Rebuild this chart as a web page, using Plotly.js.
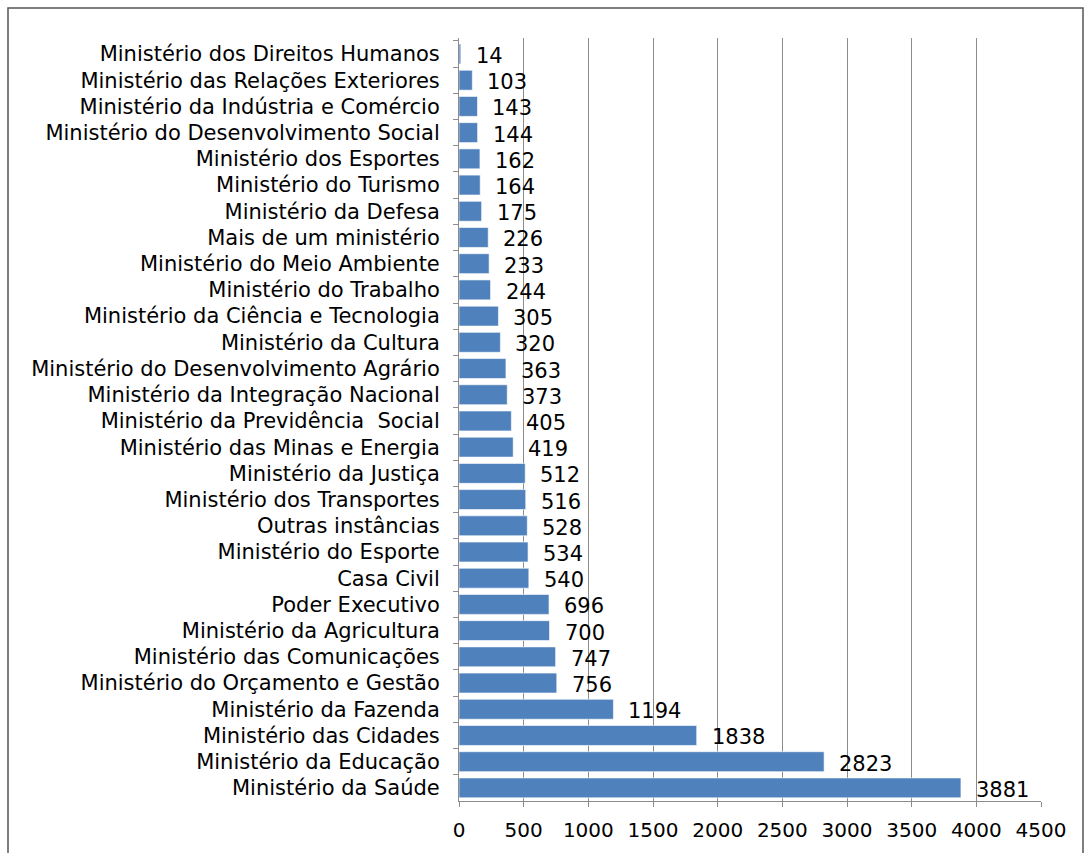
<!DOCTYPE html>
<html>
<head>
<meta charset="utf-8">
<script src="https://cdn.plot.ly/plotly-3.0.1.min.js"></script>
<style>
html,body{margin:0;padding:0;background:#fff;}
#chart{width:1084px;height:853px;}
</style>
</head>
<body>
<div id="chart"></div>
<script>
const categories = [
  "Ministério dos Direitos Humanos",
  "Ministério das Relações Exteriores",
  "Ministério da Indústria e Comércio",
  "Ministério do Desenvolvimento Social",
  "Ministério dos Esportes",
  "Ministério do Turismo",
  "Ministério da Defesa",
  "Mais de um ministério",
  "Ministério do Meio Ambiente",
  "Ministério do Trabalho",
  "Ministério da Ciência e Tecnologia",
  "Ministério da Cultura",
  "Ministério do Desenvolvimento Agrário",
  "Ministério da Integração Nacional",
  "Ministério da Previdência  Social",
  "Ministério das Minas e Energia",
  "Ministério da Justiça",
  "Ministério dos Transportes",
  "Outras instâncias",
  "Ministério do Esporte",
  "Casa Civil",
  "Poder Executivo",
  "Ministério da Agricultura",
  "Ministério das Comunicações",
  "Ministério do Orçamento e Gestão",
  "Ministério da Fazenda",
  "Ministério das Cidades",
  "Ministério da Educação",
  "Ministério da Saúde"
];
const values = [14,103,143,144,162,164,175,226,233,244,305,320,363,373,405,419,512,516,528,534,540,696,700,747,756,1194,1838,2823,3881];
const xTicks = [0,500,1000,1500,2000,2500,3000,3500,4000,4500];

const FONT = "DejaVu Sans, Verdana, sans-serif";

const trace = {
  type: "bar",
  orientation: "h",
  x: values,
  y: categories,
  marker: {color: "#4F81BD", line: {color: "rgba(255,255,255,0.6)", width: 1}},
  width: 0.76,
  hoverinfo: "x+y"
};

const annotations = categories.map((c, i) => ({
  x: values[i], y: c, xref: "x", yref: "y",
  text: String(values[i]), showarrow: false,
  xanchor: "left", yanchor: "middle", xshift: 13, yshift: -2,
  font: {family: FONT, size: 21, color: "#000"}
}));

const layout = {
  width: 1084, height: 853,
  margin: {l: 459, r: 43, t: 38, b: 52},
  paper_bgcolor: "#fff", plot_bgcolor: "#fff",
  showlegend: false,
  bargap: 0.24,
  font: {family: FONT, size: 20, color: "#000"},
  xaxis: {
    range: [0, 4500],
    tickvals: xTicks,
    ticktext: xTicks.map(String),
    showgrid: true, gridcolor: "#8c8c8c", gridwidth: 1,
    zeroline: false,
    showline: true, linecolor: "#8c8c8c", linewidth: 1,
    ticks: "outside", ticklen: 5, tickcolor: "#8c8c8c",
    ticklabelstandoff: 6,
    tickfont: {family: FONT, size: 20, color: "#000"},
    fixedrange: true
  },
  yaxis: {
    type: "category",
    autorange: "reversed",
    showgrid: false, zeroline: false,
    showline: true, linecolor: "#8c8c8c", linewidth: 1,
    ticks: "outside", ticklen: 5, tickcolor: "#8c8c8c",
    tickson: "boundaries",
    ticklabelstandoff: 14,
    tickfont: {family: FONT, size: 21, color: "#000"},
    fixedrange: true
  },
  annotations: annotations,
  shapes: [{
    type: "rect", xref: "paper", yref: "paper",
    x0: (8 - 459) / 582, x1: (1083 - 459) / 582,
    y0: -0.2, y1: (801 - 8) / 763,
    line: {color: "#555", width: 1.5}, layer: "below"
  }]
};

Plotly.newPlot("chart", [trace], layout, {displayModeBar: false, staticPlot: true});
</script>
</body>
</html>
